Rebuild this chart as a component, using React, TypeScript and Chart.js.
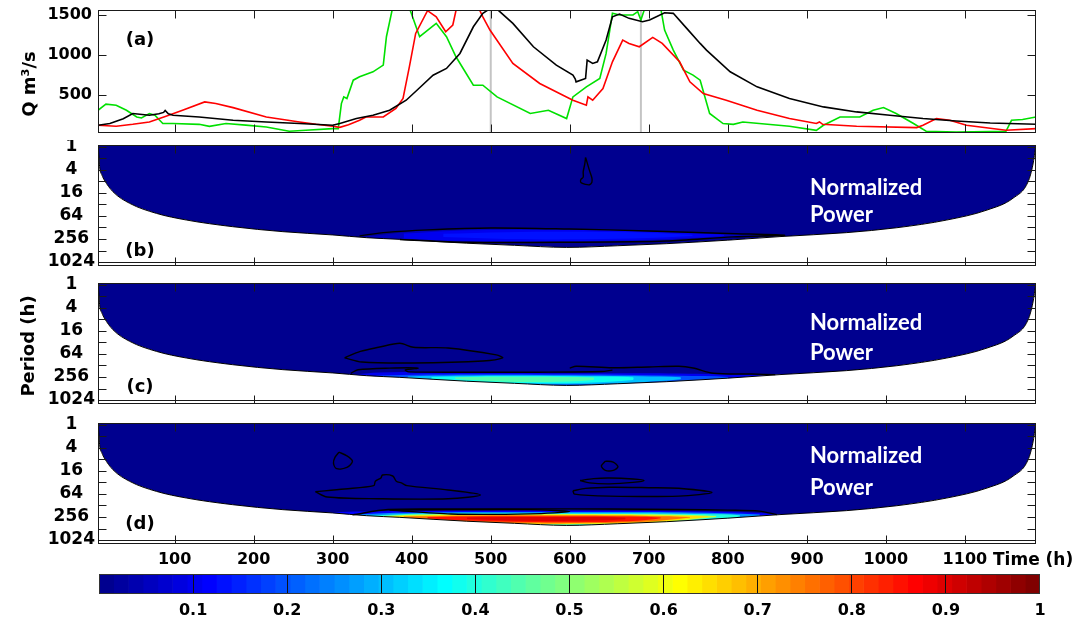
import React, { useEffect, useRef } from 'react';
import { Chart, registerables } from 'chart.js';

Chart.register(...registerables);

// ---------------- axis ranges & ticks ----------------
const T_MIN = 3, T_MAX = 1190;
const Q_MIN = 21, Q_MAX = 1567;
const P_MIN = 0.9, P_MAX = 1300;

const timeTicks = [100, 200, 300, 400, 500, 600, 700, 800, 900, 1000, 1100];
const qTicks = [500, 1000, 1500];
const periodTicks = [1, 2, 4, 8, 16, 32, 64, 128, 256, 512, 1024];
const periodLabels = [1, 4, 16, 64, 256, 1024];
const colorTicks = [0.1, 0.2, 0.3, 0.4, 0.5, 0.6, 0.7, 0.8, 0.9, 1];
const markerTimes = [500, 690];
const colorbarBins = 64;

// ---------------- panel (a): discharge series ----------------
const blackT = [3, 18, 35, 47, 68, 80, 86, 88, 92, 98, 131, 174, 216, 258, 300, 309, 330, 351, 372, 393, 410, 427, 444, 461, 478, 490, 500, 510, 528, 554, 583, 604, 607, 608, 620, 622, 629, 635, 646, 654, 663, 675, 692, 701, 720, 731, 748, 765, 773, 803, 837, 878, 921, 963, 1005, 1047, 1089, 1132, 1190];
const blackQ = [118, 140, 200, 266, 245, 262, 280, 305, 262, 245, 223, 181, 160, 140, 118, 140, 203, 245, 307, 433, 590, 748, 832, 1021, 1356, 1525, 1590, 1560, 1399, 1105, 874, 748, 700, 664, 706, 937, 895, 916, 1189, 1482, 1516, 1462, 1419, 1441, 1533, 1525, 1336, 1147, 1063, 790, 601, 455, 349, 286, 245, 203, 172, 147, 131];

const redT = [3, 26, 47, 68, 89, 110, 138, 152, 174, 216, 258, 279, 300, 309, 320, 334, 342, 364, 380, 389, 397, 405, 420, 431, 443, 452, 458, 482, 490, 499, 528, 562, 604, 621, 623, 629, 642, 654, 667, 675, 688, 705, 717, 739, 752, 769, 798, 837, 878, 912, 916, 920, 963, 1039, 1047, 1064, 1081, 1102, 1152, 1190];
const redQ = [118, 105, 130, 160, 231, 307, 412, 391, 340, 223, 160, 130, 105, 92, 125, 181, 223, 223, 330, 455, 853, 1273, 1558, 1482, 1294, 1378, 1650, 1650, 1480, 1315, 895, 643, 433, 370, 475, 433, 580, 916, 1189, 1147, 1105, 1223, 1147, 916, 664, 517, 433, 307, 203, 140, 160, 130, 105, 89, 118, 203, 181, 118, 55, 76];

const greenT = [3, 13, 26, 39, 52, 58, 68, 75, 85, 98, 131, 144, 165, 190, 216, 245, 266, 300, 307, 311, 314, 318, 326, 334, 351, 364, 368, 377, 395, 410, 431, 444, 456, 478, 490, 508, 550, 573, 596, 604, 621, 638, 646, 654, 663, 680, 686, 690, 697, 714, 720, 731, 744, 756, 765, 777, 794, 807, 819, 878, 912, 921, 942, 967, 984, 997, 1013, 1035, 1051, 1089, 1152, 1159, 1173, 1190];
const greenQ = [307, 383, 370, 307, 223, 210, 266, 245, 140, 140, 130, 105, 140, 120, 97, 43, 55, 76, 76, 391, 475, 454, 685, 727, 790, 874, 1231, 1650, 1650, 1231, 1399, 1231, 979, 622, 622, 475, 266, 307, 203, 475, 601, 706, 1021, 1525, 1504, 1504, 1546, 1441, 1650, 1650, 1315, 1063, 811, 748, 685, 266, 140, 130, 160, 105, 55, 118, 223, 223, 307, 341, 266, 140, 43, 34, 43, 181, 190, 223];

// ---------------- cone of influence (period vs time) ----------------
const coiT = [3, 4, 5, 8, 11, 22, 43, 77, 115, 173, 237, 300, 343, 385, 469, 530, 596, 660, 722, 800, 866, 950, 1014, 1077, 1128, 1161, 1180, 1186, 1190];
const coiP = [0.9, 1.6, 3.3, 5.5, 7.4, 15, 30, 55, 82, 122, 165, 201, 237, 262, 330, 375, 425, 385, 340, 275, 222, 175, 130, 82, 45, 22, 8.2, 3, 0.9];

// ---------------- panel (b) ----------------
const bLevels = [0.06, 0.1, 0.14];
const bBandT = [
  [340, 385, 450, 520, 600, 700, 800, 875],
  [390, 450, 540, 620, 700, 795],
  [440, 520, 600, 680, 755],
];
const bBandUp = [
  [225, 175, 145, 133, 140, 158, 185, 210],
  [185, 158, 148, 150, 163, 200],
  [188, 170, 165, 172, 200],
];
const bBandLo = [
  [240, 272, 312, 318, 315, 295, 230, 212],
  [248, 285, 295, 290, 268, 215],
  [228, 255, 262, 250, 215],
];
const bContourT = [
  [334, 368, 420, 500, 600, 700, 800, 872, 806, 722, 596, 469, 385],
  [620, 622, 625, 628, 628, 625, 620, 614, 614, 617, 617, 619, 620],
];
const bContourP = [
  [212, 172, 148, 132, 141, 158, 184, 205, 225, 290, 312, 312, 265],
  [1.9, 2.6, 4.2, 6.5, 8.5, 9.8, 9.6, 8.6, 7.2, 6.2, 4.5, 2.8, 1.9],
];

// ---------------- panel (c) ----------------
const cLevels = [0.1, 0.2, 0.3, 0.38, 0.45];
const cBandT = [
  [325, 360, 420, 500, 600, 700, 800, 860],
  [355, 420, 500, 580, 660, 740, 800],
  [395, 460, 540, 620, 690, 740],
  [425, 480, 550, 620, 680],
  [455, 510, 570, 630],
];
const cBandUp = [
  [222, 196, 190, 195, 205, 205, 220, 238],
  [238, 222, 218, 222, 225, 238, 255],
  [248, 236, 232, 238, 245, 262],
  [255, 245, 242, 248, 262],
  [262, 254, 254, 266],
];
const cBandLo = [
  [300, 400, 480, 520, 520, 480, 400, 300],
  [275, 390, 425, 435, 415, 365, 285],
  [285, 370, 395, 390, 350, 295],
  [290, 350, 370, 360, 305],
  [290, 335, 345, 305],
];
const cContourT = [
  [315, 335, 358, 385, 402, 446, 507, 515, 490, 402, 337, 315],
  [323, 332, 372, 408, 392, 396, 480, 560, 640, 654],
  [600, 608, 654, 700, 738, 756, 782, 830, 860],
];
const cContourP = [
  [81, 55, 43, 33.8, 43, 44.8, 68, 81, 98, 110, 104, 81],
  [205, 166, 150, 150, 168, 188, 192, 192, 185, 170],
  [150, 134, 147, 140, 134, 149, 205, 215, 222],
];

// ---------------- panel (d) ----------------
const dLevels = [0.12, 0.25, 0.4, 0.55, 0.65, 0.75, 0.85, 0.9];
const dBandT = [
  [290, 330, 400, 500, 600, 700, 800, 865],
  [320, 380, 450, 550, 650, 750, 840],
  [340, 400, 480, 580, 680, 770, 815],
  [355, 410, 500, 600, 700, 785],
  [365, 420, 500, 600, 700, 775],
  [390, 450, 520, 610, 700, 752],
  [420, 470, 550, 630, 690, 715],
  [470, 540, 610, 670],
];
const dBandUp = [
  [200, 185, 178, 175, 175, 178, 190, 225],
  [225, 200, 192, 190, 190, 195, 220],
  [240, 212, 205, 205, 205, 215, 230],
  [245, 222, 215, 214, 218, 240],
  [248, 230, 225, 225, 230, 248],
  [250, 238, 232, 232, 240, 255],
  [258, 248, 245, 245, 252, 265],
  [265, 258, 258, 268],
];
const dBandLo = [
  [300, 400, 480, 520, 520, 480, 400, 300],
  [260, 380, 430, 440, 430, 380, 240],
  [260, 360, 410, 420, 400, 330, 250],
  [255, 340, 395, 400, 370, 255],
  [255, 330, 382, 388, 352, 258],
  [265, 322, 368, 372, 335, 265],
  [275, 318, 348, 348, 315, 275],
  [290, 322, 322, 295],
];
const dContourT = [
  [308, 318, 325, 318, 305, 301, 303, 308],
  [278, 315, 352, 354, 361, 363, 376, 380.5, 387, 394, 446, 487, 446, 358, 293, 278],
  [645, 655, 661, 655, 645, 640, 645],
  [613, 630, 650, 680, 694, 680, 650, 625, 613],
  [604, 620, 650, 700, 738, 780, 738, 650, 606, 604],
  [325, 370, 450, 550, 650, 740, 800, 840, 862],
  [372, 450, 550, 600, 550, 450, 372],
];
const dContourP = [
  [5.2, 6.5, 9, 13, 14, 10, 7, 5.2],
  [56, 47.5, 38.8, 30, 24.5, 20.5, 21.8, 30, 33, 38.8, 50.5, 68, 85.5, 85.5, 77, 56],
  [8.9, 9.5, 12.5, 15.5, 15.5, 12, 8.9],
  [28.5, 25.5, 24.6, 26, 28.4, 32, 35, 33, 28.5],
  [53, 46, 43, 44, 45.7, 59, 73, 73, 65, 53],
  [225, 163, 158, 157, 159, 163, 170, 180, 222],
  [168, 165, 165, 185, 212, 214, 168],
];

// ---------------- helpers ----------------
type Pt = { x: number; y: number };
const zip = (t: number[], v: number[]): Pt[] => t.map((x, i) => ({ x, y: v[i] }));
const loop = (t: number[], up: number[], lo: number[]): Pt[] => [
  ...t.map((x, i) => ({ x, y: up[i] })),
  ...t.map((x, i) => ({ x, y: lo[i] })).reverse(),
];

function jet(v: number): string {
  const c = (x: number) => Math.round(255 * Math.max(0, Math.min(1, x)));
  return `rgb(${c(1.5 - Math.abs(4 * v - 3))},${c(1.5 - Math.abs(4 * v - 2))},${c(1.5 - Math.abs(4 * v - 1))})`;
}
const NAVY = jet(1 / 64);
const levelColor = (lv: number) => jet((Math.floor(lv * 64) + 1) / 64);

const TICKFONT = (size: number) => ({ family: 'DejaVu Sans', size, weight: 'bold' as const });

type TextItem = {
  text: string; x: number; y: number; size: number;
  family?: string; color?: string; align?: CanvasTextAlign; rotate?: boolean;
};

function framePlugin(yTicks: number[], texts: TextItem[], canvasTop: number, frameColor = '#1a1a1a', drawTicks = true) {
  return {
    id: 'frameTicks',
    afterDraw(chart: any) {
      const { ctx, chartArea: a, scales } = chart;
      const L = Math.round(a.left) + 0.5;
      const R = Math.round(a.right) - 0.5;
      const T = Math.round(a.top) + 0.5;
      const B = Math.round(a.bottom) - 0.5;
      ctx.save();
      ctx.strokeStyle = frameColor;
      ctx.lineWidth = 1;
      if (drawTicks) {
        ctx.beginPath();
        for (const tk of scales.x.ticks) {
          const x = Math.round(scales.x.getPixelForValue(tk.value)) + 0.5;
          ctx.moveTo(x, T); ctx.lineTo(x, T + 8);
          ctx.moveTo(x, B); ctx.lineTo(x, B - 8);
        }
        for (const v of yTicks) {
          const y = Math.round(scales.y.getPixelForValue(v)) + 0.5;
          ctx.moveTo(L, y); ctx.lineTo(L + 8, y);
          ctx.moveTo(R, y); ctx.lineTo(R - 8, y);
        }
        ctx.stroke();
      }
      ctx.strokeRect(L, T, R - L, B - T);
      for (const t of texts) {
        ctx.save();
        ctx.font = `bold ${t.size}px "${t.family || 'DejaVu Sans'}"`;
        ctx.fillStyle = t.color || '#000';
        ctx.textAlign = t.align || 'center';
        ctx.textBaseline = 'middle';
        ctx.translate(t.x, t.y - canvasTop);
        if (t.rotate) ctx.rotate(-Math.PI / 2);
        ctx.fillText(t.text, 0, 0);
        ctx.restore();
      }
      ctx.restore();
    },
  };
}

const fixX = (height: number) => (s: any) => { s.height = height; s.paddingLeft = 0; s.paddingRight = 0; };
const fixY = (width: number) => (s: any) => { s.width = width; s.paddingTop = 0; s.paddingBottom = 0; };

const xScale = (height: number, showLabels: boolean) => ({
  type: 'linear' as const,
  min: T_MIN,
  max: T_MAX,
  afterBuildTicks: (s: any) => { s.ticks = timeTicks.map((v) => ({ value: v })); },
  afterFit: fixX(height),
  grid: { display: false, drawTicks: false },
  border: { display: false },
  ticks: {
    display: showLabels, padding: 6, font: TICKFONT(16), color: '#000',
    autoSkip: false, maxRotation: 0, minRotation: 0,
    callback: (v: any) => String(v),
  },
});

const periodScale = () => ({
  type: 'logarithmic' as const,
  reverse: true,
  min: P_MIN,
  max: P_MAX,
  afterBuildTicks: (s: any) => { s.ticks = periodTicks.map((v) => ({ value: v })); },
  afterFit: fixY(98),
  ticks: {
    callback: (v: any) => (periodLabels.includes(Number(v)) ? String(v) : ''),
    crossAlign: 'center' as const, padding: 3, font: TICKFONT(17), color: '#000', autoSkip: false,
  },
  grid: {
    z: 1, drawTicks: false, lineWidth: 1,
    color: (c: any) => (c.tick && c.tick.value === 1024 ? '#1a1a1a' : 'rgba(0,0,0,0)'),
  },
  border: { display: false },
});

function waveletDatasets(levels: number[], bandT: number[][], bandUp: number[][], bandLo: number[][], contourT: number[][], contourP: number[][]) {
  const base = { pointRadius: 0, pointHoverRadius: 0 };
  const ds: any[] = [];
  // powered region inside the cone of influence (filled to the top of the axis)
  ds.push({ ...base, data: zip(coiT, coiP), fill: 'end', backgroundColor: NAVY, borderWidth: 0, cubicInterpolationMode: 'monotone', order: 200 });
  levels.forEach((lv, i) => {
    ds.push({ ...base, data: loop(bandT[i], bandUp[i], bandLo[i]), fill: 'shape', backgroundColor: levelColor(lv), borderWidth: 0, tension: 0.35, order: 150 - i });
  });
  // outside the cone of influence: white, with the black COI line
  ds.push({ ...base, data: zip(coiT, coiP), fill: 'start', backgroundColor: '#ffffff', borderColor: '#000', borderWidth: 1, cubicInterpolationMode: 'monotone', order: 50 });
  contourT.forEach((t, i) => {
    ds.push({ ...base, data: zip(t, contourP[i]), fill: false, borderColor: '#000', borderWidth: 1.4, tension: 0.3, order: 10 });
  });
  return ds;
}

const commonOpts = {
  responsive: false,
  animation: false as const,
  events: [] as any[],
  plugins: { legend: { display: false }, tooltip: { enabled: false } },
};

function waveletConfig(canvasTop: number, canvasH: number, areaTop: number, areaBottom: number, showX: boolean, ds: any[], texts: TextItem[]) {
  return {
    type: 'line' as const,
    data: { datasets: ds },
    options: {
      ...commonOpts,
      layout: { padding: { left: 0, right: 50, top: areaTop - canvasTop, bottom: 0 } },
      scales: { x: xScale(canvasH - (areaBottom - canvasTop), showX), y: periodScale() },
    },
    plugins: [framePlugin(periodTicks, texts, canvasTop)],
  };
}

const NP = (y1: number, y2: number): TextItem[] => [
  { text: 'Normalized', x: 810, y: y1, size: 22, family: 'Lato', color: '#ffffff', align: 'left' },
  { text: 'Power', x: 810, y: y2, size: 22, family: 'Lato', color: '#ffffff', align: 'left' },
];

export default function App() {
  const aRef = useRef<HTMLCanvasElement>(null);
  const bRef = useRef<HTMLCanvasElement>(null);
  const cRef = useRef<HTMLCanvasElement>(null);
  const dRef = useRef<HTMLCanvasElement>(null);
  const eRef = useRef<HTMLCanvasElement>(null);

  useEffect(() => {
    const charts: Chart[] = [];
    const line = { pointRadius: 0, pointHoverRadius: 0, fill: false, tension: 0, borderWidth: 1.6 };

    // panel (a)
    const aDatasets: any[] = [
      { ...line, data: zip(blackT, blackQ), borderColor: '#000000', order: 1 },
      { ...line, data: zip(redT, redQ), borderColor: '#ff0000', order: 2 },
      { ...line, data: zip(greenT, greenQ), borderColor: '#00e000', order: 3 },
      ...markerTimes.map((t) => ({ ...line, data: [{ x: t, y: Q_MIN }, { x: t, y: Q_MAX }], borderColor: '#c4c4c4', borderWidth: 2, order: 10 })),
    ];
    charts.push(new Chart(aRef.current as HTMLCanvasElement, {
      type: 'line',
      data: { datasets: aDatasets },
      options: {
        ...commonOpts,
        layout: { padding: { left: 0, right: 50, top: 10, bottom: 0 } },
        scales: {
          x: xScale(7, false) as any,
          y: {
            type: 'linear', min: Q_MIN, max: Q_MAX,
            afterBuildTicks: (s: any) => { s.ticks = qTicks.map((v) => ({ value: v })); },
            afterFit: fixY(98),
            ticks: { padding: 6, font: TICKFONT(16), color: '#000', autoSkip: false, callback: (v: any) => String(v) },
            grid: { display: false, drawTicks: false },
            border: { display: false },
          },
        },
      } as any,
      plugins: [framePlugin(qTicks, [
        { text: '(a)', x: 140, y: 40, size: 18 },
        { text: 'Q m³/s', x: 30, y: 84, size: 18, rotate: true },
      ], 0)],
    } as any));

    // panel (b)
    charts.push(new Chart(bRef.current as HTMLCanvasElement, waveletConfig(140, 130, 145, 266, false,
      waveletDatasets(bLevels, bBandT, bBandUp, bBandLo, bContourT, bContourP),
      [{ text: '(b)', x: 140, y: 251, size: 18 }, ...NP(188, 215)]) as any));

    // panel (c)
    charts.push(new Chart(cRef.current as HTMLCanvasElement, waveletConfig(275, 135, 283, 404, false,
      waveletDatasets(cLevels, cBandT, cBandUp, cBandLo, cContourT, cContourP),
      [{ text: '(c)', x: 140, y: 387, size: 18 }, { text: 'Period (h)', x: 29, y: 346, size: 18, rotate: true }, ...NP(323, 353)]) as any));

    // panel (d)
    charts.push(new Chart(dRef.current as HTMLCanvasElement, waveletConfig(415, 160, 423, 544, true,
      waveletDatasets(dLevels, dBandT, dBandUp, dBandLo, dContourT, dContourP),
      [{ text: '(d)', x: 140, y: 524, size: 18 }, ...NP(456, 488),
       { text: 'Time (h)', x: 993, y: 561, size: 17, align: 'left' }]) as any));

    // colorbar
    const cbDatasets = Array.from({ length: colorbarBins }, (_, i) => ({
      data: [1 / colorbarBins],
      backgroundColor: jet((i + 1) / colorbarBins),
      borderWidth: 0,
      barPercentage: 1,
      categoryPercentage: 1,
    }));
    charts.push(new Chart(eRef.current as HTMLCanvasElement, {
      type: 'bar',
      data: { labels: [''], datasets: cbDatasets },
      options: {
        ...commonOpts,
        indexAxis: 'y',
        layout: { padding: { left: 99, right: 46, top: 9, bottom: 0 } },
        scales: {
          x: {
            type: 'linear', min: 0, max: 1, stacked: true,
            afterBuildTicks: (s: any) => { s.ticks = colorTicks.map((v) => ({ value: v })); },
            afterFit: fixX(28),
            ticks: {
              callback: (v: any) => (Number(v) >= 0.999 ? '1' : Number(v).toFixed(1)),
              padding: 7, font: TICKFONT(16), color: '#000', autoSkip: false, maxRotation: 0,
            },
            grid: {
              z: 1, drawTicks: false, lineWidth: 1,
              color: (c: any) => (c.tick && c.tick.value < 0.999 ? '#111' : 'rgba(0,0,0,0)'),
            },
            border: { display: false },
          },
          y: { stacked: true, display: false },
        },
      } as any,
      plugins: [framePlugin([], [], 565, '#333', false)],
    } as any));

    return () => charts.forEach((c) => c.destroy());
  }, []);

  const cv = (top: number): React.CSSProperties => ({ position: 'absolute', left: 0, top });
  return (
    <div style={{ position: 'absolute', left: 0, top: 0, width: 1086, height: 622, background: '#ffffff', overflow: 'hidden' }}>
      <canvas ref={aRef} width={1086} height={140} style={cv(0)} />
      <canvas ref={bRef} width={1086} height={130} style={cv(140)} />
      <canvas ref={cRef} width={1086} height={135} style={cv(275)} />
      <canvas ref={dRef} width={1086} height={160} style={cv(415)} />
      <canvas ref={eRef} width={1086} height={57} style={cv(565)} />
    </div>
  );
}
